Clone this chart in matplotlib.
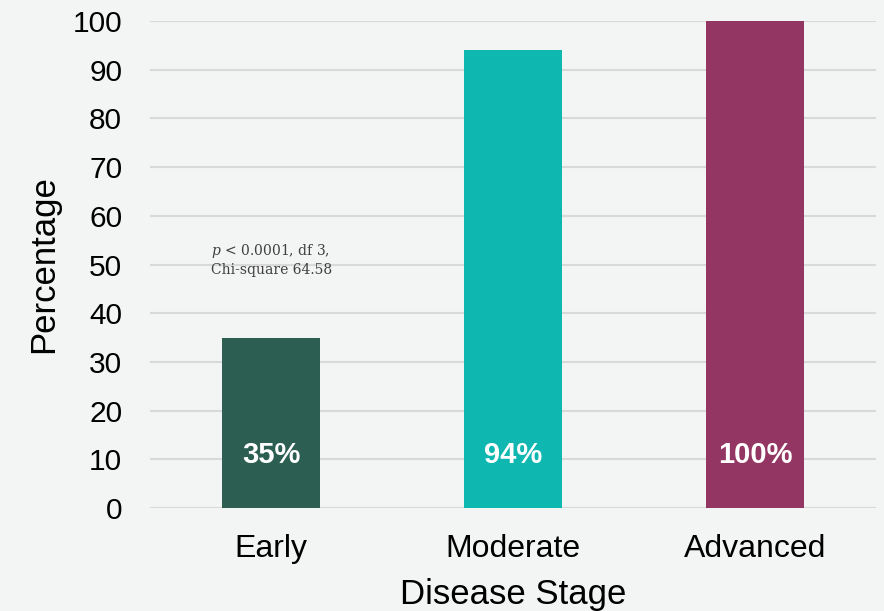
import matplotlib.pyplot as plt

# Data
stages = ['Early', 'Moderate', 'Advanced']
percentages = [35, 94, 100]
bar_labels = ['35%', '94%', '100%']
colors = ['#2C5F51', '#0EB7B0', '#943663']
yticks = list(range(0, 101, 10))

plt.rcParams['mathtext.fontset'] = 'dejavuserif'

bg = '#F3F4F4'
fig = plt.figure(figsize=(8.84, 6.11), dpi=100, facecolor=bg)
ax = fig.add_axes([0.1697, 0.1686, 0.8213, 0.797])
ax.set_facecolor(bg)

x = range(len(stages))
ax.bar(x, percentages, width=0.405, color=colors, zorder=3)

# white labels inside bars
for i, lab in enumerate(bar_labels):
    ax.text(i, 10.8, lab, ha='center', va='center', color='white',
            fontsize=21, fontweight='bold', family='Liberation Sans', zorder=4)

ax.text(-0.25, 51, r'$p$ < 0.0001, df 3,' + '\nChi-square 64.58', ha='left', va='center',
        fontsize=10, family='DejaVu Serif', color='#404040', linespacing=1.3)

ax.set_xlim(-0.5, 2.5)
ax.set_ylim(0, 100)
ax.set_yticks(yticks)
ax.set_xticks(list(x))
ax.set_xticklabels(stages)
ax.yaxis.grid(True, color='#D9D9D9', linewidth=1.5, zorder=0)
ax.set_axisbelow(True)
for s in ax.spines.values():
    s.set_visible(False)
ax.tick_params(axis='y', length=0, labelsize=21.5, pad=20)
ax.tick_params(axis='x', length=0, labelsize=23, pad=19)
for lbl in ax.get_xticklabels() + ax.get_yticklabels():
    lbl.set_family('Liberation Sans')

ax.set_ylabel('Percentage', fontsize=25, family='Liberation Sans', labelpad=9)
ax.set_xlabel('Disease Stage', fontsize=25, family='Liberation Sans', labelpad=10)

fig.savefig('out.png', dpi=100, facecolor=bg)
